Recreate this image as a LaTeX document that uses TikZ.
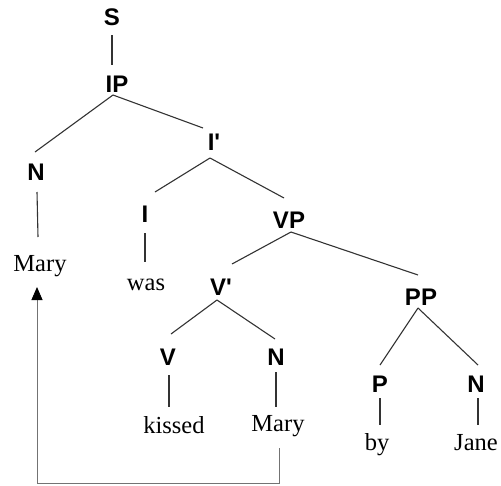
\documentclass[tikz,border=0pt]{standalone}
\usepackage{fontspec}
\setmainfont{Liberation Serif}
\newfontfamily\labfont{Liberation Sans}
\usetikzlibrary{arrows.meta}
\tikzset{
  lab/.style={anchor=base,inner sep=0pt,font=\labfont\bfseries\fontsize{24}{26}\selectfont},
  word/.style={anchor=base,inner sep=0pt,font=\fontsize{24.5}{26}\selectfont},
  branch/.style={line width=1.1pt,draw=black!80},
  move/.style={line width=0.9pt,draw=black!55,-{Triangle[length=13pt,width=11pt,fill=black,color=black]}}
}
\begin{document}
\begin{tikzpicture}[x=1pt,y=-1pt]
\useasboundingbox (0,0) rectangle (501,485);
\node[lab] (S) at (112,25) {S};
\node[lab] (IP) at (117,92) {IP};
\node[lab] (N1) at (36,180) {N};
\node[lab] (Ib) at (214,150) {I'};
\node[lab] (I) at (145,222) {I};
\node[lab] (VP) at (289,228) {VP};
\node[lab] (Vb) at (221,295) {V'};
\node[lab] (PP) at (421,305) {PP};
\node[lab] (V) at (168,365) {V};
\node[lab] (N2) at (276,365) {N};
\node[lab] (P) at (380,392) {P};
\node[lab] (N3) at (476,392) {N};
\node[word] (Mary1) at (40,271) {Mary};
\node[word] (was) at (146,290) {was};
\node[word] (kissed) at (174,433) {kissed};
\node[word] (Mary2) at (278,431) {Mary};
\node[word] (by) at (377,450) {by};
\node[word] (Jane) at (476,450) {Jane};
\draw[branch] ([shift={(0,10)}]S.base) -- ([shift={(-5,-27)}]IP.base);
\draw[branch] ([shift={(-4,3)}]IP.base) -- ([shift={(-1,-28)}]N1.base);
\draw[branch] ([shift={(-4,3)}]IP.base) -- ([shift={(-11,-22)}]Ib.base);
\draw[branch] ([shift={(-4,8)}]Ib.base) -- ([shift={(10,-30)}]I.base);
\draw[branch] ([shift={(-4,8)}]Ib.base) -- ([shift={(-5,-30)}]VP.base);
\draw[branch] ([shift={(1,12)}]N1.base) -- ([shift={(-2,-34)}]Mary1.base);
\draw[branch] ([shift={(0,11)}]I.base) -- ([shift={(-1,-28)}]was.base);
\draw[branch] ([shift={(2,4)}]VP.base) -- ([shift={(11,-31)}]Vb.base);
\draw[branch] ([shift={(2,4)}]VP.base) -- ([shift={(-3,-30)}]PP.base);
\draw[branch] ([shift={(-4,5)}]Vb.base) -- ([shift={(3,-31)}]V.base);
\draw[branch] ([shift={(-4,5)}]Vb.base) -- ([shift={(-1,-26)}]N2.base);
\draw[branch] ([shift={(1,10)}]V.base) -- ([shift={(-5,-26)}]kissed.base);
\draw[branch] ([shift={(0,7)}]N2.base) -- ([shift={(-2,-24)}]Mary2.base);
\draw[branch] ([shift={(-3,3)}]PP.base) -- ([shift={(0,-27)}]P.base);
\draw[branch] ([shift={(-3,3)}]PP.base) -- ([shift={(2,-27)}]N3.base);
\draw[branch] ([shift={(0,6)}]P.base) -- ([shift={(3,-25)}]by.base);
\draw[branch] ([shift={(2,6)}]N3.base) -- ([shift={(2,-25)}]Jane.base);
\draw[move] ([shift={(1,17)}]Mary2.base) -- ++(0,35) -| ([shift={(-3,16)}]Mary1.base);
\end{tikzpicture}
\end{document}
